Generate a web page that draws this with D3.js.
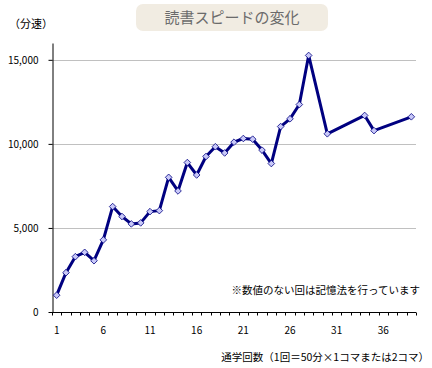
<!DOCTYPE html>
<html>
<head>
<meta charset="utf-8">
<script src="https://d3js.org/d3.v7.min.js"></script>
<style>
  body { margin: 0; background: #fff; }
  text { font-family: "Noto Sans CJK JP", "DejaVu Sans", sans-serif; }
</style>
</head>
<body>
<script>
// 通学回数 1..39, null = 記憶法の回
const sessions = d3.range(1, 40);
const speeds = [
  1000, 2340, 3290, 3550, 3050, 4290, 6270, 5680, 5240, 5300,
  5970, 6030, 8010, 7200, 8890, 8150, 9250, 9830, 9460, 10100,
  10320, 10280, 9630, 8830, 11030, 11490, 12340, 15260, null, 10600,
  null, null, null, 11690, 10790, null, null, null, 11610
];
const yTicks = [0, 5000, 10000, 15000];
const xLabels = [1, 6, 11, 16, 21, 26, 31, 36];

const width = 432, height = 368;
const margin = { top: 43, right: 16, bottom: 56, left: 52 };

const svg = d3.select('body').append('svg')
  .attr('width', width)
  .attr('height', height);

const x = d3.scaleBand()
  .domain(sessions)
  .range([margin.left, width - margin.right]);

const y = d3.scaleLinear()
  .domain([0, 16000])
  .range([height - margin.bottom, margin.top]);

// title box
svg.append('rect')
  .attr('x', 136).attr('y', 4)
  .attr('width', 192).attr('height', 27)
  .attr('rx', 7)
  .attr('fill', '#f1ece2');
svg.append('text')
  .attr('x', 232).attr('y', 23)
  .attr('text-anchor', 'middle')
  .attr('font-size', 15)
  .attr('fill', '#6b6b6b')
  .text('読書スピードの変化');

svg.append('text')
  .attr('x', 9).attr('y', 28)
  .attr('font-size', 11)
  .text('（分速）');

// gridlines
svg.append('g')
  .selectAll('line')
  .data(yTicks.filter(d => d > 0))
  .join('line')
  .attr('x1', margin.left).attr('x2', width - margin.right)
  .attr('y1', d => Math.round(y(d)) + 0.5).attr('y2', d => Math.round(y(d)) + 0.5)
  .attr('stroke', '#c0c0c0');

// y axis
const yAxis = svg.append('g')
  .attr('transform', `translate(${margin.left + 0.5},0)`)
  .call(d3.axisLeft(y).tickValues(yTicks).tickSize(4).tickSizeOuter(0)
    .tickFormat(d3.format(',')));
yAxis.selectAll('text').attr('font-size', 10).attr('x', -14).attr('fill', '#000');
yAxis.select('.domain').attr('stroke', '#000');

// x axis: ticks at category boundaries
const xAxisY = Math.round(y(0)) + 0.5;
const xg = svg.append('g');
xg.append('line')
  .attr('x1', margin.left).attr('x2', width - margin.right)
  .attr('y1', xAxisY).attr('y2', xAxisY)
  .attr('stroke', '#000');
xg.selectAll('.tk')
  .data(sessions.concat([40]))
  .join('line')
  .attr('x1', d => Math.round(d <= 39 ? x(d) : x(39) + x.bandwidth()) + 0.5)
  .attr('x2', d => Math.round(d <= 39 ? x(d) : x(39) + x.bandwidth()) + 0.5)
  .attr('y1', xAxisY).attr('y2', xAxisY + 3)
  .attr('stroke', '#000');
xg.selectAll('.lb')
  .data(xLabels)
  .join('text')
  .attr('x', d => x(d) + x.bandwidth() / 2)
  .attr('y', 334)
  .attr('text-anchor', 'middle')
  .attr('font-size', 10)
  .text(d => d);

svg.append('text')
  .attr('x', 429).attr('y', 361)
  .attr('text-anchor', 'end')
  .attr('font-size', 10.5)
  .text('通学回数（1回＝50分×1コマまたは2コマ）');

svg.append('text')
  .attr('x', 420).attr('y', 294)
  .attr('text-anchor', 'end')
  .attr('font-size', 10.5)
  .text('※数値のない回は記憶法を行っています');

// series
const pts = sessions.map((s, i) => ({ s, v: speeds[i] })).filter(d => d.v != null);
const cx = d => x(d.s) + x.bandwidth() / 2;

svg.append('path')
  .datum(pts)
  .attr('fill', 'none')
  .attr('stroke', '#000080')
  .attr('stroke-width', 3)
  .attr('stroke-linejoin', 'round')
  .attr('d', d3.line().x(cx).y(d => y(d.v)));

svg.append('g')
  .selectAll('path')
  .data(pts)
  .join('path')
  .attr('transform', d => `translate(${cx(d)},${y(d.v)})`)
  .attr('d', d3.symbol(d3.symbolDiamond2, 28))
  .attr('fill', '#c8c8f8')
  .attr('stroke', '#000080')
  .attr('stroke-width', 0.8);
</script>
</body>
</html>
